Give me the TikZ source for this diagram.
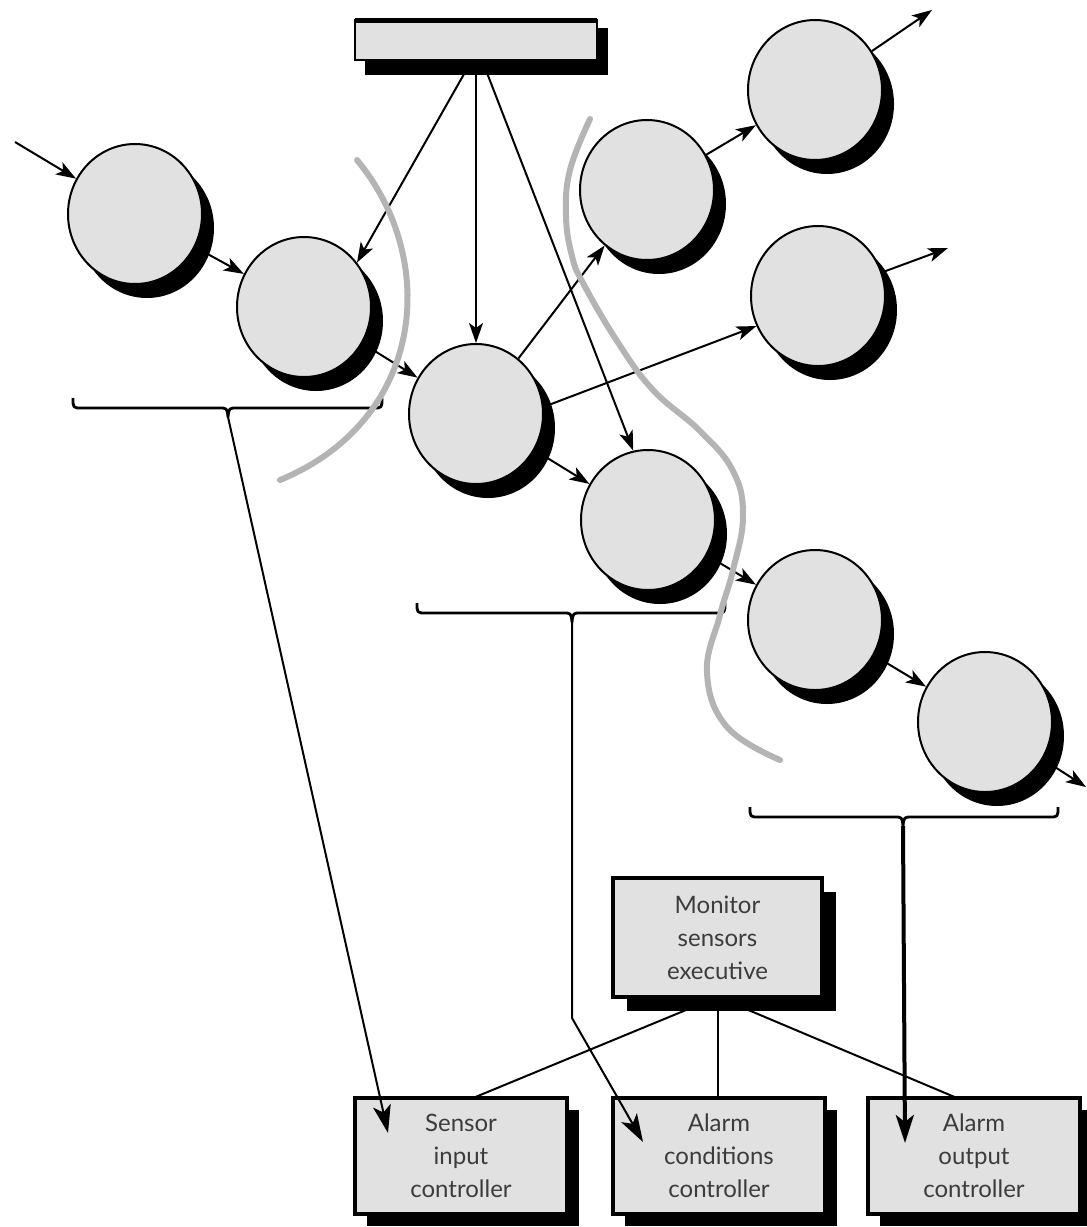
\documentclass[tikz,border=0pt]{standalone}
\usepackage{fontspec}
\setmainfont{Lato}
\usetikzlibrary{arrows.meta,shapes.geometric,shadows,calc,backgrounds}
\definecolor{fillg}{HTML}{E1E1E1}
\definecolor{curveg}{HTML}{B4B4B4}
\definecolor{txt}{HTML}{3C3C3C}
\begin{document}
\begin{tikzpicture}[x=0.5pt,y=-0.5pt,
  bub/.style={ellipse, draw, line width=1pt, fill=fillg, minimum width=67pt, minimum height=70pt, inner sep=0pt,
    drop shadow={shadow xshift=6pt, shadow yshift=-7pt, fill=black, opacity=1}},
  pbox/.style={rectangle, draw, line width=1.8pt, fill=fillg, minimum width=106pt, minimum height=58pt, inner sep=0pt,
    outer sep=0pt, align=center, text=txt, font=\fontsize{12}{16.5}\selectfont},
  arr/.style={draw, line width=1pt, -{Stealth[length=10pt,width=7pt,inset=2.5pt]}},
  bigarr/.style={draw, line width=1pt, -{Stealth[length=14pt,width=9pt,inset=3.5pt]}},
  bracepath/.style={draw, line width=1.4pt, line join=round},
  plain/.style={draw, line width=1pt},
  curve/.style={draw=curveg, line width=3pt, line cap=round}
]
\useasboundingbox (0,0) rectangle (1087,1227);

% data store bar
\node[rectangle, draw, line width=0.8pt, fill=fillg, minimum width=121pt, minimum height=20pt, inner sep=0pt, outer sep=0pt] (bar) at (476,40) {};
\draw[line width=2.5pt] (bar.north west) -- (bar.north east);

% bubbles
\node[bub] (c1) at (135,214) {};
\node[bub] (c2) at (304,307) {};
\node[bub] (c3) at (476,414) {};
\node[bub] (c4) at (647,190) {};
\node[bub] (c5) at (815,90) {};
\node[bub] (c6) at (818,296) {};
\node[bub] (c7) at (648,520) {};
\node[bub] (c8) at (815,620) {};
\node[bub] (c9) at (985,722) {};

% free ends
\coordinate (in1) at (15,142);
\coordinate (o5) at (932,10);
\coordinate (o6) at (948,248);
\coordinate (o9) at (1086,787);

% flow arrows
\draw[arr] (in1) -- (c1);
\draw[arr] (c1) -- (c2);
\draw[arr] (c2) -- (c3);
\draw[arr] (c3) -- (c4);
\draw[arr] (c3.6) -- (c6.206);
\draw[arr] (c3) -- (c7);
\draw[arr] (c4) -- (c5);
\draw[arr] (c5) -- (o5);
\draw[arr] (c6) -- (o6);
\draw[arr] (c7) -- (c8);
\draw[arr] (c8) -- (c9);
\draw[arr] (c9) -- (o9);

% arrows from the bar
\draw[arr] ($(bar.south)+(-4,0)$) -- (c2.40);
\draw[arr] (bar.south) -- (c3.north);
\draw[arr] ($(bar.south)+(6,0)$) -- (c7.102);

% braces
\draw[bracepath] (73,398) .. controls (73,408) .. (82,408) -- (219,408) .. controls (227,408) .. (228,417)
  .. controls (229,408) .. (237,408) -- (373,408) .. controls (382,408) .. (382,398);
\draw[bracepath] (417,603) .. controls (417,613) .. (426,613) -- (563,613) .. controls (571,613) .. (572,622)
  .. controls (573,613) .. (581,613) -- (716,613) .. controls (725,613) .. (725,603);
\draw[bracepath] (750,807) .. controls (750,817) .. (759,817) -- (894,817) .. controls (902,817) .. (903,826)
  .. controls (904,817) .. (912,817) -- (1049,817) .. controls (1058,817) .. (1058,807);
\coordinate (b1) at (228,417);
\coordinate (b2) at (572,622);
\coordinate (b3) at (903,826);

% process boxes
\node[pbox, minimum width=104.5pt, minimum height=59.5pt] (mon) at (717.5,937.5) {Monitor\\sensors\\executive};
\node[pbox] (sen) at (461,1156) {Sensor\\input\\controller};
\node[pbox] (acond) at (719,1156) {Alarm\\conditions\\controller};
\node[pbox] (aout) at (974,1156) {Alarm\\output\\controller};

% box shadows
\begin{scope}[on background layer]
\fill[black] (bar.north west) rectangle (bar.south east);
\fill[black] ($(bar.north west)+(10,8)$) rectangle ($(bar.south east)+(11,15)$);
\foreach \b/\o in {mon/14, sen/12, acond/12, aout/12}{
  \fill[black] (\b.north west) rectangle (\b.south east);
  \fill[black] ($(\b.north west)+(\o,\o)$) rectangle ($(\b.south east)+(\o,\o)$);
}
\end{scope}

% structure lines
\draw[plain] (mon.south) -- ($(sen.north)+(12,0)$);
\draw[plain] (mon.south) -- (mon.south |- acond.north);
\draw[plain] (mon.south) -- ($(aout.north)+(-17,0)$);

% mapping arrows
\coordinate (t1) at (388,1133);
\coordinate (k2) at (572,1018);
\coordinate (t2) at (643,1142);
\coordinate (t3) at (905,1143);
\draw[bigarr] (b1) -- (t1);
\draw[bigarr] (b2) -- (k2) -- (t2);
\draw[bigarr, line width=2pt] (b3) -- (t3);

% grey partition curves
\draw[curve] (357,160) .. controls (440,260) and (425,420) .. (280,480);
\draw[curve] plot[smooth, tension=0.7] coordinates {(590,119) (570,170) (566,216) (572,256) (583,283) (617,341) (653,390) (700,431) (733,471) (743,516) (733,570) (720,615) (707,673) (727,727) (780,760)};
\end{tikzpicture}
\end{document}
